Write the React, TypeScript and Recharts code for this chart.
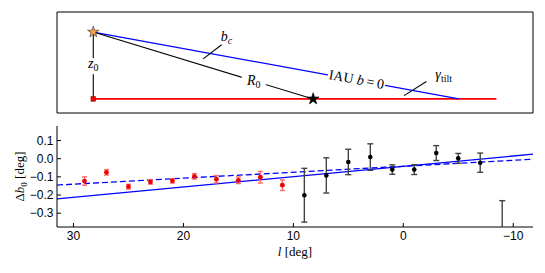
import { ComposedChart, Line, Scatter, XAxis, YAxis, ErrorBar, ReferenceArea, Symbols, Label } from "recharts";

// ---- top sketch (arbitrary units: Sun's foot at x=0, GC at x=8, z0 drawn as 1) ----
const sketchX = [-1.32, 16];
const sketchY = [-0.21, 1.3];
const sun = [{ x: 0, y: 1 }];
const galCentre = [{ x: 8, y: 0 }];
const sunFoot = [{ x: 0, y: 0 }];
const z0Seg = [{ x: 0, y: 0 }, { x: 0, y: 1 }];
const r0Seg = [{ x: 0, y: 1 }, { x: 8, y: 0 }];
const iauSeg = [{ x: 0, y: 1 }, { x: 13.3, y: 0 }];
const planeSeg = [{ x: 0, y: 0 }, { x: 14.67, y: 0 }];
const bcPointer = [{ x: 4.0, y: 0.6 }, { x: 4.67, y: 0.81 }];
const gammaPointer = [{ x: 11.31, y: 0.05 }, { x: 12.12, y: 0.26 }];
const sketchLabels = [
  { x: 0, y: 0.49, id: "z0" },
  { x: 5.84, y: 0.27, id: "R0" },
  { x: 9.58, y: 0.29, id: "iau" },
  { x: 4.85, y: 0.93, id: "bc" },
  { x: 12.75, y: 0.36, id: "gamma" },
];

// ---- bottom panel ----
const lRange = [-11.8, 31.5];
const dbRange = [-0.376, 0.18];
const lTicks = [30, 20, 10, 0, -10];
const dbTicks = [-0.3, -0.2, -0.1, 0.0, 0.1];

const redL = [29, 27, 25, 23, 21, 19, 17, 15, 13, 11];
const redDb = [-0.123, -0.075, -0.154, -0.128, -0.122, -0.097, -0.113, -0.119, -0.102, -0.146];
const redErr = [0.023, 0.015, 0.013, 0.012, 0.012, 0.015, 0.02, 0.018, 0.032, 0.029];

const blackL = [9, 7, 5, 3, 1, -1, -3, -5, -7, -9];
const blackDb = [-0.201, -0.092, -0.018, 0.009, -0.06, -0.06, 0.031, 0.002, -0.022, -0.45];
const blackErr = [0.148, 0.097, 0.07, 0.073, 0.026, 0.027, 0.041, 0.027, 0.053, 0.219];

const fitL = [31.5, -11.8];
const solidFit = [-0.221, 0.025];
const dashedFit = [-0.145, -0.003];

const redPts = redL.map((l, i) => ({ l, db: redDb[i], err: redErr[i] }));
const blackPts = blackL.map((l, i) => ({ l, db: blackDb[i], err: blackErr[i] }));
const solidLine = fitL.map((l, i) => ({ l, db: solidFit[i] }));
const dashedLine = fitL.map((l, i) => ({ l, db: dashedFit[i] }));

const SERIF = "'Liberation Serif', 'Times New Roman', serif";
const TICK = { fontFamily: "'Liberation Sans', Arial, sans-serif", fontSize: 12, fill: "#000" };
const fmtX = (v: number) => String(v).replace("-", "\u2212");
const fmtY = (v: number) => v.toFixed(1).replace("-", "\u2212");
const blank = () => "";
const M = { top: 6, right: 12, bottom: 46, left: 57 };

function SketchLabel(props: any) {
  const { cx, cy, payload } = props;
  const base = { fontFamily: SERIF, fontSize: 14, fill: "#000" };
  switch (payload.id) {
    case "z0":
      return (
        <g>
          <rect x={cx - 7} y={cy - 8} width={14} height={16} fill="#fff" />
          <text x={cx} y={cy + 2} textAnchor="middle" {...base}>
            <tspan fontStyle="italic">z</tspan>
            <tspan fontSize={10} dy={3}>0</tspan>
          </text>
        </g>
      );
    case "R0":
      return (
        <g>
          <rect x={cx - 12} y={cy - 7} width={24} height={14} fill="#fff" />
          <text x={cx} y={cy + 4} textAnchor="middle" {...base}>
            <tspan fontStyle="italic">R</tspan>
            <tspan fontSize={10} dy={3}>0</tspan>
          </text>
        </g>
      );
    case "iau":
      return (
        <g transform={`rotate(10.4 ${cx} ${cy})`}>
          <rect x={cx - 29} y={cy - 7} width={58} height={14} fill="#fff" />
          <text x={cx} y={cy + 4.5} textAnchor="middle" {...base}>
            IAU <tspan fontStyle="italic">b</tspan>{"\u2009=\u20090"}
          </text>
        </g>
      );
    case "bc":
      return (
        <text x={cx} y={cy + 4} textAnchor="middle" {...base}>
          <tspan fontStyle="italic">b</tspan>
          <tspan fontStyle="italic" fontSize={10} dy={3}>c</tspan>
        </text>
      );
    default:
      return (
        <text x={cx} y={cy + 4} textAnchor="middle" {...base}>
          <tspan fontStyle="italic">{"\u03b3"}</tspan>
          <tspan fontSize={10} dy={3}>tilt</tspan>
        </text>
      );
  }
}

const XTitle = (props: any) => {
  const vb = props.viewBox;
  return (
    <text x={vb.x + vb.width / 2} y={vb.y + 29} textAnchor="middle" fontFamily={SERIF} fontSize={13} fill="#000">
      <tspan fontStyle="italic">l</tspan> [deg]
    </text>
  );
};

const YTitle = (props: any) => {
  const vb = props.viewBox;
  const cy = vb.y + vb.height / 2;
  return (
    <text x={24} y={cy} transform={`rotate(-90 24 ${cy})`} textAnchor="middle" fontFamily={SERIF} fontSize={13} fill="#000">
      {"\u0394"}<tspan fontStyle="italic">b</tspan>
      <tspan fontSize={9} dy={3}>0</tspan>
      <tspan dy={-3}> [deg]</tspan>
    </text>
  );
};

const star = (fill: string, stroke: string, size: number) => (p: any) =>
  <Symbols cx={p.cx} cy={p.cy} type="star" size={size} fill={fill} stroke={stroke} strokeWidth={0.7} />;

export default function App() {
  return (
    <div style={{ position: "absolute", left: 0, top: 0, width: 545, height: 273, background: "#fff" }}>
      <div style={{ position: "absolute", left: 0, top: 0 }}>
        <ComposedChart width={545} height={125} margin={{ top: 12, right: 12, bottom: 12, left: 57 }}>
          <XAxis type="number" dataKey="x" domain={sketchX} allowDataOverflow hide />
          <YAxis type="number" dataKey="y" domain={sketchY} allowDataOverflow hide />
          <ReferenceArea x1={sketchX[0]} x2={sketchX[1]} y1={sketchY[0]} y2={sketchY[1]} fill="none" fillOpacity={0} stroke="#000" strokeWidth={1} strokeOpacity={1} />
          <Line data={planeSeg} dataKey="y" stroke="#ff0000" strokeWidth={1.8} dot={false} activeDot={false} isAnimationActive={false} />
          <Line data={iauSeg} dataKey="y" stroke="#0000ff" strokeWidth={1.2} dot={false} activeDot={false} isAnimationActive={false} />
          <Line data={r0Seg} dataKey="y" stroke="#000" strokeWidth={1.1} dot={false} activeDot={false} isAnimationActive={false} />
          <Line data={z0Seg} dataKey="y" stroke="#000" strokeWidth={1.1} dot={false} activeDot={false} isAnimationActive={false} />
          <Line data={bcPointer} dataKey="y" stroke="#000" strokeWidth={1.1} dot={false} activeDot={false} isAnimationActive={false} />
          <Line data={gammaPointer} dataKey="y" stroke="#000" strokeWidth={1.1} dot={false} activeDot={false} isAnimationActive={false} />
          <Scatter data={sketchLabels} shape={SketchLabel} isAnimationActive={false} />
          <Scatter data={sunFoot} shape={(p: any) => <rect x={p.cx - 2.3} y={p.cy - 2.3} width={4.6} height={4.6} fill="#ff0000" stroke="#600" strokeWidth={0.5} />} isAnimationActive={false} />
          <Scatter data={sun} shape={star("#ffa040", "#444", 40)} isAnimationActive={false} />
          <Scatter data={galCentre} shape={star("#000", "#000", 42)} isAnimationActive={false} />
        </ComposedChart>
      </div>
      <div style={{ position: "absolute", left: 0, top: 120 }}>
        <ComposedChart width={545} height={153} margin={{ top: 6, right: 12, bottom: 16, left: 7 }}>
          <XAxis xAxisId="b" type="number" dataKey="l" domain={lRange} reversed allowDataOverflow ticks={lTicks} interval={0}
            tickFormatter={fmtX} tick={TICK} tickSize={-4} tickMargin={8.5} height={30}
            axisLine={{ stroke: "#000" }} tickLine={{ stroke: "#000" }}>
            <Label content={XTitle} />
          </XAxis>
          <XAxis xAxisId="t" orientation="top" type="number" domain={lRange} reversed allowDataOverflow ticks={lTicks} interval={0}
            tickFormatter={blank} tickSize={-4} height={0} axisLine={{ stroke: "#000" }} tickLine={{ stroke: "#000" }} />
          <YAxis yAxisId="l" type="number" dataKey="db" domain={dbRange} allowDataOverflow ticks={dbTicks} interval={0}
            tickFormatter={fmtY} tick={TICK} tickSize={-4} tickMargin={7.5} width={50}
            axisLine={{ stroke: "#000" }} tickLine={{ stroke: "#000" }}>
            <Label content={YTitle} />
          </YAxis>
          <YAxis yAxisId="r" orientation="right" type="number" domain={dbRange} allowDataOverflow ticks={dbTicks} interval={0}
            tickFormatter={blank} tickSize={-4} width={0} axisLine={{ stroke: "#000" }} tickLine={{ stroke: "#000" }} />
          <Line xAxisId="b" yAxisId="l" data={solidLine} dataKey="db" stroke="#0000ff" strokeWidth={1.3} dot={false} activeDot={false} isAnimationActive={false} />
          <Line xAxisId="b" yAxisId="l" data={dashedLine} dataKey="db" stroke="#0000ff" strokeWidth={1.3} strokeDasharray="6 3" dot={false} activeDot={false} isAnimationActive={false} />
        </ComposedChart>
      </div>
      {/* measurements drawn on an overlay with the same plot box, clipped to it */}
      <div style={{ position: "absolute", left: 0, top: 120, clipPath: `inset(${M.top}px ${M.right}px ${M.bottom}px ${M.left}px)` }}>
        <ComposedChart width={545} height={153} margin={M}>
          <XAxis type="number" dataKey="l" domain={lRange} reversed allowDataOverflow hide />
          <YAxis type="number" dataKey="db" domain={dbRange} allowDataOverflow hide />
          <Scatter data={redPts} isAnimationActive={false}
            shape={(p: any) => <circle cx={p.cx} cy={p.cy} r={2.4} fill="#ee0000" />}>
            <ErrorBar dataKey="err" direction="y" width={2.5} stroke="#ff6a6a" strokeWidth={1.4} isAnimationActive={false} />
          </Scatter>
          <Scatter data={blackPts} isAnimationActive={false}
            shape={(p: any) => <circle cx={p.cx} cy={p.cy} r={2.3} fill="#000" />}>
            <ErrorBar dataKey="err" direction="y" width={3} stroke="#444" strokeWidth={1.4} isAnimationActive={false} />
          </Scatter>
        </ComposedChart>
      </div>
    </div>
  );
}
